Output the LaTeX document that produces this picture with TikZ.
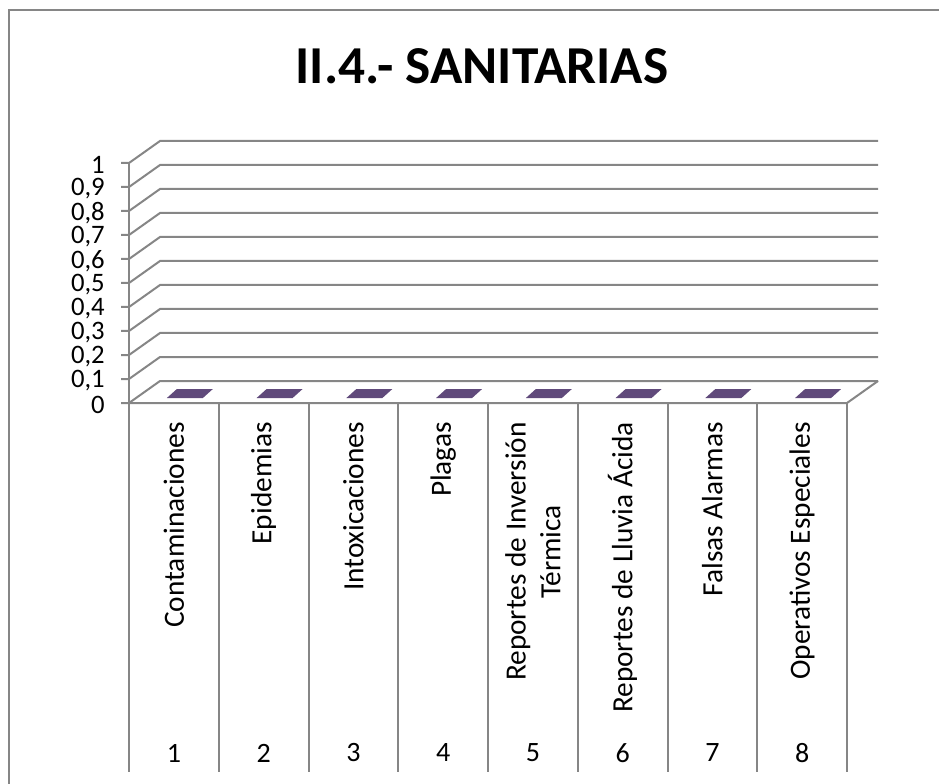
\documentclass[tikz,border=0pt]{standalone}
\usepackage{fontspec}
\setmainfont{Carlito}
\usetikzlibrary{positioning}
\definecolor{gridgray}{RGB}{134,134,134}
\definecolor{barpurple}{RGB}{96,74,123}
\tikzset{
  grid line/.style={gridgray, line width=1.5pt},
  axis label/.style={font=\fontsize{20}{24}\selectfont, inner sep=0pt, anchor=east},
  cat label/.style={font=\fontsize{22}{26}\selectfont, rotate=90, anchor=east, align=center, inner sep=0pt},
  num label/.style={font=\fontsize{21}{25}\selectfont, inner sep=0pt},
}

\begin{document}
\begin{tikzpicture}[x=0.75pt, y=-0.75pt]
\useasboundingbox (0,0) rectangle (939,784);
% outer frame
\draw[grid line] (9,784) -- (9,10) -- (939,10);

\node[font=\fontsize{40}{46}\selectfont\bfseries, inner sep=0pt] (title) at (482,66) {II.4.- SANITARIAS};

% back wall and floor
\foreach \k in {0,...,10}
  \draw[grid line] (121,{403-24*\k}) -- (129,{403-24*\k}) -- (160,{381-24*\k}) -- (878,{381-24*\k});
\draw[grid line] (129,163) -- (129,772);
\draw[grid line] (129,403) -- (847,403) -- (878,381);
\foreach \i in {1,...,8}
  \draw[grid line] ({129+89.75*\i},403) -- ({129+89.75*\i},772);

% bars (all zero)
\foreach \i in {1,...,8}
  \fill[barpurple] ({129+89.75*(\i-0.5)-7},398) -- ++(36,0) -- ++(10,-9) -- ++(-36,0) -- cycle;

% value axis
\foreach \k/\t in {0/0, 1/{0,1}, 2/{0,2}, 3/{0,3}, 4/{0,4}, 5/{0,5}, 6/{0,6}, 7/{0,7}, 8/{0,8}, 9/{0,9}, 10/1}
  \node[axis label] (y\k) at (105,{405-24*\k}) {\t};

% categories
\node[cat label] (c1) at (173.9,422) {Contaminaciones};
\node[cat label] (c2) at (263.6,422) {Epidemias};
\node[cat label] (c3) at (353.4,422) {Intoxicaciones};
\node[cat label] (c4) at (443.1,422) {Plagas};
\node[cat label] (c5) at (532.9,422) {Reportes de Inversión\\Térmica};
\node[cat label] (c6) at (622.6,422) {Reportes de Lluvia Ácida};
\node[cat label] (c7) at (712.4,422) {Falsas Alarmas};
\node[cat label] (c8) at (802.1,422) {Operativos Especiales};

\foreach \i in {1,...,8}
  \node[num label] (n\i) at ({129+89.75*(\i-0.5)},753) {\i};
\end{tikzpicture}
\end{document}
